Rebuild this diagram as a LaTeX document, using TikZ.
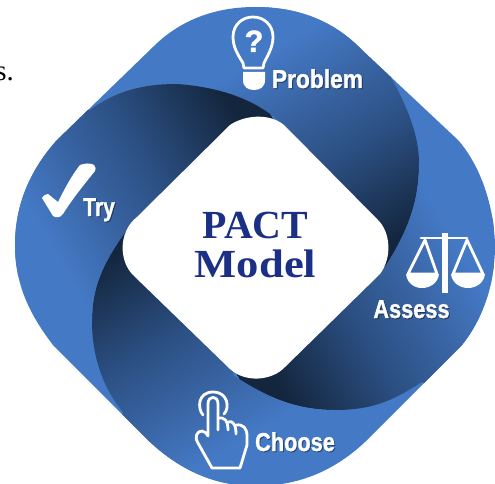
\documentclass[tikz,border=0pt]{standalone}
\usepackage{fontspec}
\setmainfont{Liberation Serif}
\newfontfamily\labfont{Liberation Sans}[BoldFeatures={FakeBold=1.2}]
\definecolor{basecol}{HTML}{4479C5}
\definecolor{titlecol}{HTML}{1B2F85}
\pgfdeclarehorizontalshading{bandshade}{560bp}{%
  rgb(0bp)=(0.078,0.149,0.243);
  rgb(30bp)=(0.078,0.149,0.243);
  rgb(129bp)=(0.169,0.310,0.510);
  rgb(200bp)=(0.227,0.400,0.651);
  rgb(256bp)=(0.267,0.475,0.773);
  rgb(300bp)=(0.267,0.475,0.773)}
\def\outerpath{(153,47) .. controls (180,20) and (215,7) .. (255,7)
  .. controls (300,7) and (335,22) .. (362,50) -- (458,140)
  .. controls (480,165) and (494,205) .. (495,245)
  .. controls (495,285) and (482,320) .. (462,345) -- (365,442)
  .. controls (335,470) and (300,486) .. (255,486)
  .. controls (215,486) and (180,470) .. (150,442) -- (53,345)
  .. controls (30,315) and (15,285) .. (15,245)
  .. controls (15,205) and (30,170) .. (57,140) -- cycle}
\tikzset{
  iconline/.style={draw=white,line width=2.8pt,line join=round,line cap=round},
  iconfill/.style={fill=white},
  lab/.style={text=white,font=\labfont\bfseries\fontsize{26}{26}\selectfont,inner sep=0pt,anchor=base},
  labshadow/.style={lab,text=black,opacity=0.35},
  shade node/.style={inner sep=0pt,anchor=west},
  title/.style={text=titlecol,font=\bfseries\fontsize{40}{40}\selectfont,inner sep=0pt,anchor=base}
}
\begin{document}
\begin{tikzpicture}[x=1bp,y=-1bp]
\useasboundingbox (0,0) rectangle (495,484);
\fill[white] (0,0) rectangle (495,484);
\node[font=\fontsize{29}{29}\selectfont,inner sep=0pt,anchor=base east] (cut) at (14,81) {s.};
\fill[basecol] \outerpath;
% top right band
\begin{scope}
  \clip \outerpath;
  \clip (388,72) .. controls (402,97) and (419,130) .. (419,163)
    .. controls (419,195) and (412,225) .. (385,267) -- (255,247) -- (280,122)
    .. controls (262,106) and (232,88) .. (177,84) -- (177,0) -- (420,0) -- cycle;
  \node[shade node,rotate=120.5] (shTR) at (417,262) {\pgfuseshading{bandshade}};
\end{scope}
% bottom right band
\begin{scope}
  \clip \outerpath;
  \clip (422,382) .. controls (395,399) and (375,410) .. (335,410)
    .. controls (300,410) and (270,400) .. (233,375) -- (255,247) -- (385,267)
    .. controls (412,225) and (419,195) .. (419,163) -- (500,163) -- (500,420) -- cycle;
  \node[shade node,rotate=30.5] (shBR) at (239,379) {\pgfuseshading{bandshade}};
\end{scope}
% bottom left band
\begin{scope}
  \clip \outerpath;
  \clip (123,412) .. controls (100,385) and (92,350) .. (92,322)
    .. controls (92,290) and (100,265) .. (132,223) -- (255,247) -- (233,375)
    .. controls (270,400) and (300,410) .. (335,410) -- (335,490) -- (100,490) -- cycle;
  \node[shade node,rotate=-59.5] (shBL) at (93,231) {\pgfuseshading{bandshade}};
\end{scope}
% top left band
\begin{scope}
  \clip \outerpath;
  \clip (90,110) .. controls (117,90) and (145,84) .. (177,84)
    .. controls (232,88) and (262,106) .. (280,122) -- (255,247) -- (132,223)
    .. controls (100,265) and (92,290) .. (92,322) -- (0,322) -- (0,120) -- cycle;
  \node[shade node,rotate=210.5] (shTL) at (271,115) {\pgfuseshading{bandshade}};
\end{scope}
% centre
\fill[white] (230,125) .. controls (243,116) and (268,112) .. (284,125) -- (378,220)
  .. controls (391,233) and (392,258) .. (380,274) -- (285,367)
  .. controls (272,381) and (245,383) .. (230,369) -- (133,275)
  .. controls (119,261) and (118,232) .. (137,217) -- cycle;
\node[title] (pact) at (255.5,238) {PACT};
\node[title,xscale=1.12] (model) at (255.5,277.5) {Model};
% bulb
\draw[iconline] (244,68) -- (243,63) .. controls (238,55) and (233,47) .. (233,37)
  .. controls (233,25) and (242,17) .. (253,17)
  .. controls (264,17) and (273,25) .. (273,37)
  .. controls (273,47) and (268,55) .. (264,63) -- (263,68) -- cycle;
\fill[iconfill] (243,72) -- (265,72) -- (265,80) .. controls (265,87) and (260,90) .. (254,90)
  .. controls (248,90) and (243,87) .. (243,80) -- cycle;
\node[text=white,font=\labfont\bfseries\fontsize{31}{31}\selectfont,inner sep=0pt,anchor=base] (qm) at (254,52) {?};
% check
\fill[iconfill] (42,198) .. controls (44,195) and (46,194) .. (48,194) -- (58,202)
  .. controls (65,188) and (72,175) .. (80,165) .. controls (85,163) and (91,163) .. (94,165)
  .. controls (96,167) and (96,169) .. (95,171)
  .. controls (82,187) and (71,201) .. (63,214) .. controls (60,218) and (56,218) .. (53,216) -- cycle;
% scales
\fill[iconfill] (442,233) rectangle (448,293);
\draw[iconline] (421,238) -- (467,238);
\draw[iconline] (425,240) -- (408,274) -- (437,274) -- cycle;
\draw[iconline] (467,240) -- (453,274) -- (483,274) -- cycle;
\fill[iconfill] (406,274) -- (439,274) .. controls (438,283) and (430,288) .. (422,288) .. controls (414,288) and (407,283) .. (406,274) -- cycle;
\fill[iconfill] (451,274) -- (485,274) .. controls (484,283) and (476,288) .. (468,288) .. controls (460,288) and (452,283) .. (451,274) -- cycle;
% hand
\draw[iconline] (203,415) .. controls (197,408) and (198,392) .. (213,392)
  .. controls (228,392) and (230,408) .. (224,414);
\draw[iconline] (208,436) -- (208,404) .. controls (208,395) and (218,395) .. (218,404) -- (218,430);
\draw[iconline] (218,418) .. controls (224,417) and (228,420) .. (228,430);
\draw[iconline] (228,422) .. controls (233,420) and (236,425) .. (236,434);
\draw[iconline] (236,425) .. controls (243,424) and (247,428) .. (247,436)
  -- (247,445) -- (240,468) -- (212,468) -- (198,443)
  .. controls (194,437) and (197,431) .. (202,431) .. controls (205,431) and (207,434) .. (208,436);
% labels
\foreach \nm/\tx/\xx/\yy/\sc in {a/Problem/317.5/88/0.88, b/Try/99/216/0.82, c/Assess/411.5/318/0.84, d/Choose/295/451/0.84}{
  \node[labshadow,xscale=\sc] (s\nm) at (\xx+1,\yy+1) {\tx};
  \node[lab,xscale=\sc] (l\nm) at (\xx,\yy) {\tx};
}
\end{tikzpicture}
\end{document}
